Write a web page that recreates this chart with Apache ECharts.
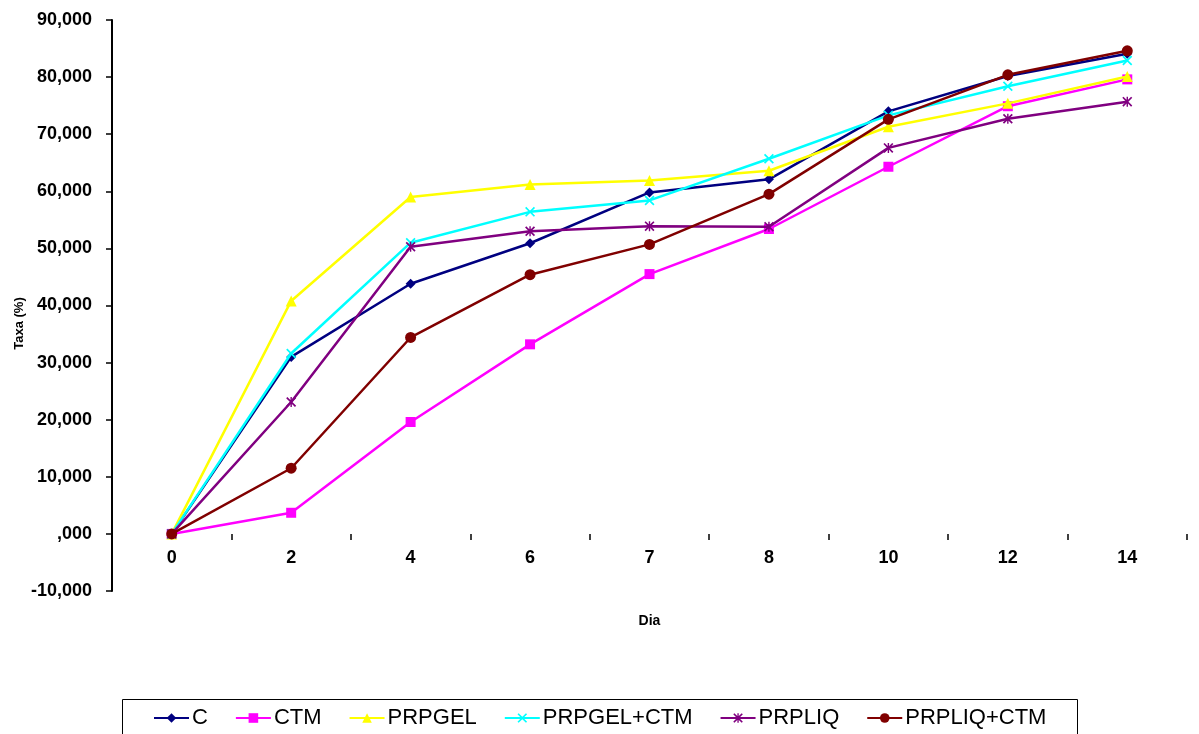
<!DOCTYPE html>
<html>
<head>
<meta charset="utf-8">
<script src="https://cdn.jsdelivr.net/npm/echarts@6/dist/echarts.min.js"></script>
<style>
html,body{margin:0;padding:0;background:#fff;}
#chart{width:1199px;height:734px;}
</style>
</head>
<body>
<div id="chart"></div>
<script>
const days = ['0','2','4','6','7','8','10','12','14'];
const seriesNames = ['C','CTM','PRPGEL','PRPGEL+CTM','PRPLIQ','PRPLIQ+CTM'];
const C         = [0, 31.0, 43.8, 50.9, 59.8, 62.1, 74.0, 80.2, 84.1];
const CTM       = [0, 3.7, 19.6, 33.2, 45.5, 53.4, 64.3, 74.9, 79.6];
const PRPGEL    = [0, 40.8, 59.0, 61.2, 61.9, 63.6, 71.3, 75.4, 80.1];
const PRPGELCTM = [0, 31.6, 51.0, 56.4, 58.4, 65.7, 73.3, 78.4, 82.9];
const PRPLIQ    = [0, 23.1, 50.3, 53.0, 53.9, 53.8, 67.6, 72.7, 75.7];
const PRPLIQCTM = [0, 11.5, 34.4, 45.4, 50.7, 59.5, 72.6, 80.4, 84.6];
const yTitle = 'Taxa (%)';
const xTitle = 'Dia';
const yMin = -10, yMax = 90, yStep = 10;

const allData = [C, CTM, PRPGEL, PRPGELCTM, PRPLIQ, PRPLIQCTM];
const colors = ['#000080','#FF00FF','#FFFF00','#00FFFF','#800080','#800000'];
const xPath = 'path://M0,1.2L1.2,0L5,3.8L8.8,0L10,1.2L6.2,5L10,8.8L8.8,10L5,6.2L1.2,10L0,8.8L3.8,5Z';
const starPath = 'path://M0,1.2L1.2,0L5,3.8L8.8,0L10,1.2L6.2,5L10,8.8L8.8,10L5,6.2L1.2,10L0,8.8L3.8,5Z M4.3,0L5.7,0L5.7,10L4.3,10Z';
const symbols = ['diamond','rect','triangle',xPath,starPath,'circle'];
const symSizes = [10,10,11,10,10,11];

const gridTop = 20, gridBottom = 143, H = 734;
const plotH = H - gridTop - gridBottom;
const zeroOffset = -plotH * (0 - yMin) / (yMax - yMin);

const chart = echarts.init(document.getElementById('chart'));
const fmt = v => (v === 0 ? ',000' : v.toFixed(3).replace('.', ','));

chart.setOption({
  animation: false,
  textStyle: {fontFamily: 'Liberation Sans, Arial, sans-serif'},
  grid: {left: 112, right: 12, top: gridTop, bottom: gridBottom, containLabel: false, outerBoundsMode: 'none'},
  xAxis: {
    type: 'category',
    data: days,
    boundaryGap: true,
    position: 'bottom',
    offset: zeroOffset,
    name: xTitle,
    nameLocation: 'middle',
    nameGap: 80,
    nameMoveOverlap: false,
    nameTextStyle: {fontSize: 14, fontWeight: 'bold', color: '#000'},
    axisLine: {show: false, onZero: false},
    axisTick: {show: true, length: 6, inside: false, alignWithLabel: false, lineStyle: {color: '#000', width: 1.5}},
    axisLabel: {fontSize: 18, color: '#000', margin: 15, fontWeight: 'bold'},
    splitLine: {show: false}
  },
  yAxis: {
    type: 'value',
    min: yMin, max: yMax, interval: yStep,
    name: yTitle,
    nameLocation: 'middle',
    nameRotate: 90,
    nameGap: 86,
    nameMoveOverlap: false,
    nameTextStyle: {fontSize: 13, fontWeight: 'bold', color: '#000', padding: [0, 36, 0, 0]},
    axisLine: {show: true, onZero: false, lineStyle: {color: '#000', width: 2}},
    axisTick: {show: true, length: 6, lineStyle: {color: '#000', width: 1.5}},
    axisLabel: {fontSize: 18, color: '#000', margin: 20, fontWeight: 'bold', formatter: fmt},
    splitLine: {show: false}
  },
  legend: {
    left: 148, top: 702,
    itemWidth: 35, itemHeight: 12, itemGap: 27,
    textStyle: {fontSize: 22, color: '#000', padding: [0,0,0,-2]},
    data: seriesNames
  },
  graphic: [{
    type: 'rect', left: 120, top: 697, silent: true,
    shape: {width: 955, height: 35},
    style: {fill: 'none', stroke: '#000', lineWidth: 1}
  }],
  series: seriesNames.map((n, i) => ({
    name: n,
    type: 'line',
    data: allData[i],
    symbol: symbols[i],
    symbolSize: symSizes[i],
    lineStyle: {color: colors[i], width: 2.5},
    itemStyle: {color: colors[i]},
    z: 2 + i
  }))
});
</script>
</body>
</html>
